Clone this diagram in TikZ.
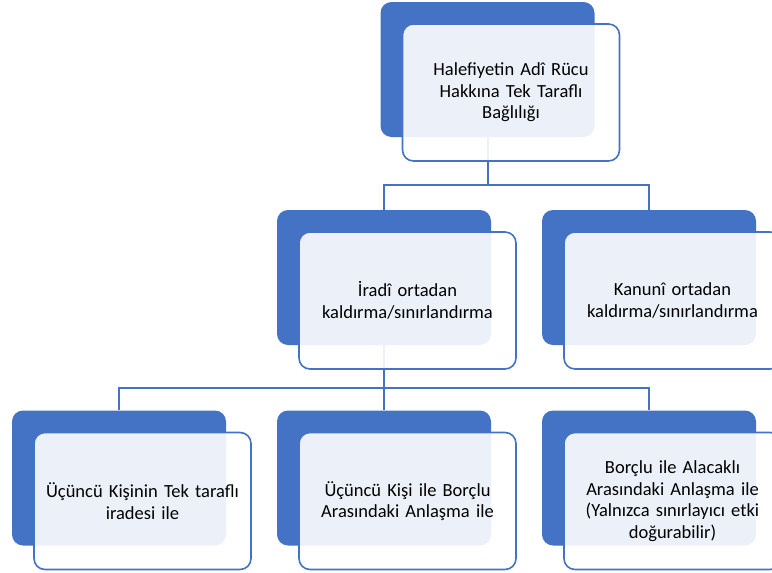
\documentclass[tikz,border=0pt]{standalone}
\usepackage{fontspec}
\setmainfont{Carlito}
\usetikzlibrary{positioning}
\definecolor{smartblue}{HTML}{4472C4}

\begin{document}
\begin{tikzpicture}[x=1pt, y=-1pt,
    back/.style={fill=smartblue, rounded corners=11pt, minimum width=214pt, minimum height=135pt, inner sep=0pt},
    front/.style={draw=smartblue, line width=1.6pt, fill=white, fill opacity=.9, text opacity=1,
        rounded corners=11pt, minimum width=217pt, minimum height=137pt, inner sep=0pt,
        text width=210pt, align=center, font=\fontsize{18.5}{21.5}\selectfont},
    conn/.style={draw=smartblue, line width=2pt}]
    \fill[white] (0,0) rectangle (772,573);
    \clip (0,0) rectangle (772,573);
    % back boxes
    \node[back] (b1) at (487.5,69.5) {};
    \node[back] (b2) at (384,277.5) {};
    \node[back] (b3) at (649,277.5) {};
    \node[back] (b4) at (119,478) {};
    \node[back] (b5) at (384,478) {};
    \node[back] (b6) at (649,478) {};
    % connectors
    \coordinate (j1) at (487.5,185);
    \coordinate (j2) at (384,388);
    \draw[conn] (b1.south) -- (j1) -| (b2.north);
    \draw[conn] (j1) -| (b3.north);
    \draw[conn] (b2.south) -- (b5.north);
    \draw[conn] (j2) -| (b4.north);
    \draw[conn] (j2) -| (b6.north);
    % front boxes
    \node[front] (f1) at (511,92.5) {Halefiyetin Adî Rücu\\Hakkına Tek Taraflı\\Bağlılığı};
    \node[front] (f2) at (407.5,300.5) {İradî ortadan\\kaldırma/sınırlandırma};
    \node[front] (f3) at (672.5,300.5) {Kanunî ortadan\\kaldırma/sınırlandırma};
    \node[front] (f4) at (142.5,501) {Üçüncü Kişinin Tek taraflı\\iradesi ile};
    \node[front] (f5) at (407.5,501) {Üçüncü Kişi ile Borçlu\\Arasındaki Anlaşma ile};
    \node[front] (f6) at (672.5,501) {Borçlu ile Alacaklı\\Arasındaki Anlaşma ile\\(Yalnızca sınırlayıcı etki\\doğurabilir)};
\end{tikzpicture}
\end{document}
